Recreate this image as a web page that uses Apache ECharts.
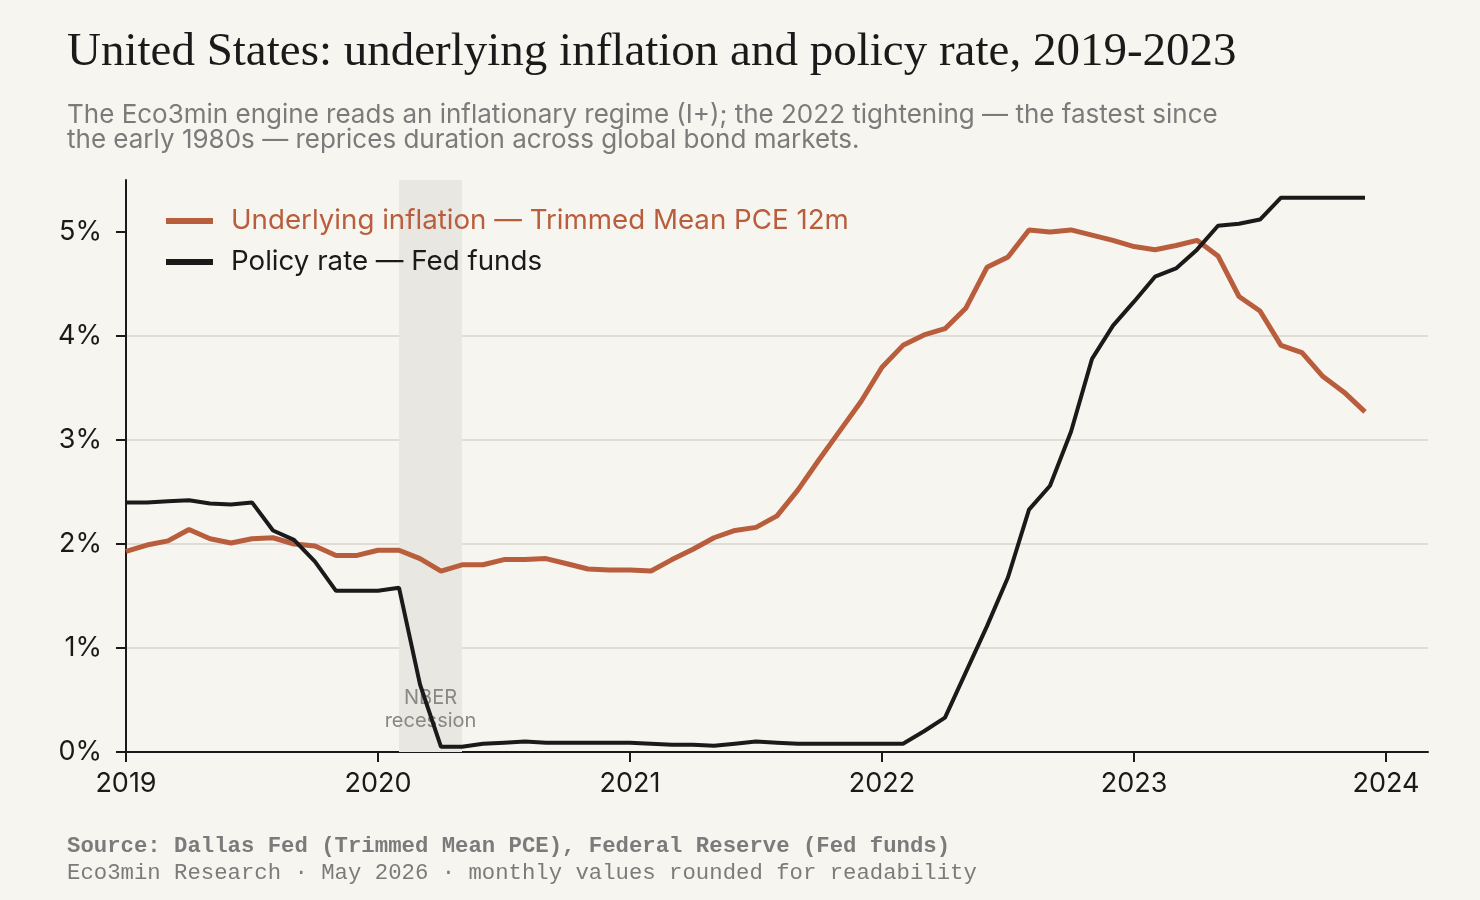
<!DOCTYPE html>
<html>
<head>
<meta charset="utf-8">
<script src="https://cdn.jsdelivr.net/npm/echarts@6/dist/echarts.min.js"></script>
<style>
  html, body { margin: 0; background: #f7f5ef; }
  #chart { width: 1480px; height: 900px; }
</style>
</head>
<body>
<div id="chart"></div>
<script>
// monthly data, Jan 2019 .. Dec 2023
const startYear = 2019;
const inflation = [
  1.93, 1.99, 2.03, 2.14, 2.05, 2.01, 2.05, 2.06, 2.00, 1.98, 1.89, 1.89,
  1.94, 1.94, 1.86, 1.74, 1.80, 1.80, 1.85, 1.85, 1.86, 1.81, 1.76, 1.75,
  1.75, 1.74, 1.85, 1.95, 2.06, 2.13, 2.16, 2.27, 2.52, 2.81, 3.09, 3.37,
  3.70, 3.91, 4.01, 4.07, 4.27, 4.66, 4.76, 5.02, 5.00, 5.02, 4.97, 4.92,
  4.86, 4.83, 4.87, 4.92, 4.77, 4.38, 4.24, 3.91, 3.84, 3.61, 3.46, 3.27
];
const fedFunds = [
  2.40, 2.40, 2.41, 2.42, 2.39, 2.38, 2.40, 2.13, 2.04, 1.83, 1.55, 1.55,
  1.55, 1.58, 0.65, 0.05, 0.05, 0.08, 0.09, 0.10, 0.09, 0.09, 0.09, 0.09,
  0.09, 0.08, 0.07, 0.07, 0.06, 0.08, 0.10, 0.09, 0.08, 0.08, 0.08, 0.08,
  0.08, 0.08, 0.20, 0.33, 0.77, 1.21, 1.68, 2.33, 2.56, 3.08, 3.78, 4.10,
  4.33, 4.57, 4.65, 4.83, 5.06, 5.08, 5.12, 5.33, 5.33, 5.33, 5.33, 5.33
];
const yearTicks = [2019, 2020, 2021, 2022, 2023, 2024];
const pctTicks = [0, 1, 2, 3, 4, 5];
const recession = [2020 + 1 / 12, 2020 + 4 / 12]; // Feb - Apr 2020

const inflName = 'Underlying inflation — Trimmed Mean PCE 12m';
const fedName = 'Policy rate — Fed funds';
const orange = '#b95e3d';
const ink = '#1a1a1a';
const grey = '#7b7b7b';

// x position of each month as fractional year
function toPoints(values) {
  return values.map((v, i) => [startYear + i / 12, v]);
}

var chart = echarts.init(document.getElementById('chart'));

var option = {
  backgroundColor: '#f7f5ef',
  animation: false,
  title: [
    {
      text: 'United States: underlying inflation and policy rate, 2019-2023',
      left: 62, top: 24,
      textStyle: { fontFamily: 'Liberation Serif', fontSize: 47, fontWeight: 'normal', color: ink }
    },
    {
      text: 'The Eco3min engine reads an inflationary regime (I+); the 2022 tightening — the fastest since\nthe early 1980s — reprices duration across global bond markets.',
      left: 62, top: 98,
      textStyle: { fontFamily: 'Inter', fontSize: 26, lineHeight: 25, fontWeight: 'normal', color: grey }
    },
    {
      text: 'Source: Dallas Fed (Trimmed Mean PCE), Federal Reserve (Fed funds)',
      left: 62, top: 830,
      textStyle: { fontFamily: 'Liberation Mono', fontSize: 22.3, fontWeight: 'bold', color: grey }
    },
    {
      text: 'Eco3min Research · May 2026 · monthly values rounded for readability',
      left: 62, top: 857,
      textStyle: { fontFamily: 'Liberation Mono', fontSize: 22.3, fontWeight: 'normal', color: grey }
    }
  ],
  legend: {
    orient: 'vertical',
    left: 161, top: 202,
    icon: 'rect',
    itemWidth: 47, itemHeight: 6, itemGap: 13,
    textStyle: { fontFamily: 'Inter', fontSize: 27.7, lineHeight: 28, padding: [0, 0, 0, 13] },
    data: [
      { name: inflName, textStyle: { color: orange } },
      { name: fedName, textStyle: { color: ink } }
    ]
  },
  grid: { left: 126, right: 52, top: 180, bottom: 148 },
  xAxis: {
    type: 'value',
    min: 2019, max: 2024 + 2 / 12,
    axisLine: { lineStyle: { color: ink, width: 2 } },
    axisTick: { show: true, length: 10, customValues: yearTicks, lineStyle: { color: ink, width: 2 } },
    axisLabel: { customValues: yearTicks, margin: 18, fontFamily: 'Inter', fontSize: 27, color: ink, formatter: v => String(v) },
    splitLine: { show: false }
  },
  yAxis: {
    type: 'value',
    min: 0, max: 5.5,
    axisLine: { show: true, lineStyle: { color: ink, width: 2 } },
    axisTick: { show: true, length: 10, customValues: pctTicks, lineStyle: { color: ink, width: 2 } },
    axisLabel: { customValues: pctTicks, margin: 24, fontFamily: 'Inter', fontSize: 27, color: ink, formatter: v => v + '%' },
    splitLine: { show: true, showMinLine: false, showMaxLine: false, lineStyle: { color: '#d6d3cd', width: 1.5 } }
  },
  series: [
    {
      name: 'recession',
      type: 'line',
      data: [],
      z: 1,
      markArea: {
        silent: true,
        itemStyle: { color: '#e9e7e2' },
        label: {
          show: true, position: 'insideBottom', distance: 20,
          formatter: 'NBER\nrecession',
          fontFamily: 'Inter', fontSize: 20, lineHeight: 23, color: '#8a8884'
        },
        data: [[{ xAxis: recession[0] }, { xAxis: recession[1] }]]
      }
    },
    {
      name: inflName,
      type: 'line',
      data: toPoints(inflation),
      symbol: 'none',
      z: 3,
      color: orange,
      lineStyle: { color: orange, width: 5 }
    },
    {
      name: fedName,
      type: 'line',
      data: toPoints(fedFunds),
      symbol: 'none',
      z: 4,
      color: ink,
      lineStyle: { color: ink, width: 4 }
    }
  ]
};

chart.setOption(option);
</script>
</body>
</html>
